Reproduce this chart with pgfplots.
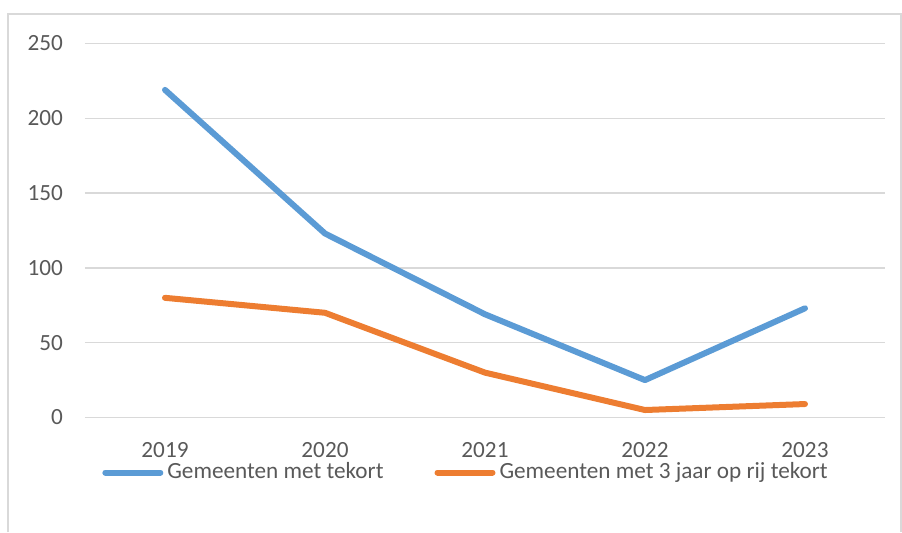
\documentclass[border=0pt]{standalone}
\usepackage{fontspec}
\setmainfont{Carlito}
\usepackage{pgfplots}
\pgfplotsset{compat=1.18}
\definecolor{xlblue}{HTML}{5B9BD5}
\definecolor{xlorange}{HTML}{ED7D31}
\definecolor{xlgrid}{HTML}{D9D9D9}
\definecolor{xltext}{HTML}{595959}

\begin{document}
\fontsize{11.6}{14}\selectfont
\begin{tikzpicture}
% picture frame: 902x532 px at 0.5pt per px, axis box bottom-left at (0,0)
\useasboundingbox (-42.5pt,-57.25pt) rectangle (408.5pt,208.75pt);
\draw[xlgrid, line width=0.75pt] (-38.5pt,-57.25pt) -- (-38.5pt,201.75pt) -- (408pt,201.75pt) -- (408pt,-57.25pt);
\begin{axis}[
    scale only axis,
    width=400pt, height=187pt,
    at={(0,0)}, anchor=south west,
    xmin=-0.5, xmax=4.5,
    ymin=0, ymax=250,
    xtick=data,
    xticklabels={2019,2020,2021,2022,2023},
    ytick={0,50,100,150,200,250},
    axis line style={draw=none},
    major tick length=0pt,
    ymajorgrids=true,
    grid style={xlgrid, line width=0.75pt},
    tick label style={text=xltext, font=\fontsize{11.6}{14}\selectfont},
    /pgf/number format/assume math mode=true,
    xticklabel style={yshift=-8.5pt},
    yticklabel style={xshift=-7pt},
    legend style={at={(191pt,-27.5pt)}, anchor=center, draw=none, fill=none,
        legend columns=2, text=xltext, font=\fontsize{11.6}{14}\selectfont,
        /tikz/every even column/.append style={column sep=23.5pt}},
    legend image code/.code={\draw[#1, line width=3pt] (0pt,0pt) -- (27.5pt,0pt);},
    legend cell align=left,
    clip=false,
]
\addplot[xlblue, line width=3pt, line cap=round, line join=round] coordinates {
    (0,219) (1,123) (2,69) (3,25) (4,73)
};
\addplot[xlorange, line width=3pt, line cap=round, line join=round] coordinates {
    (0,80) (1,70) (2,30) (3,5) (4,9)
};
\legend{Gemeenten met tekort, Gemeenten met 3 jaar op rij tekort}
\end{axis}
\end{tikzpicture}
\end{document}
